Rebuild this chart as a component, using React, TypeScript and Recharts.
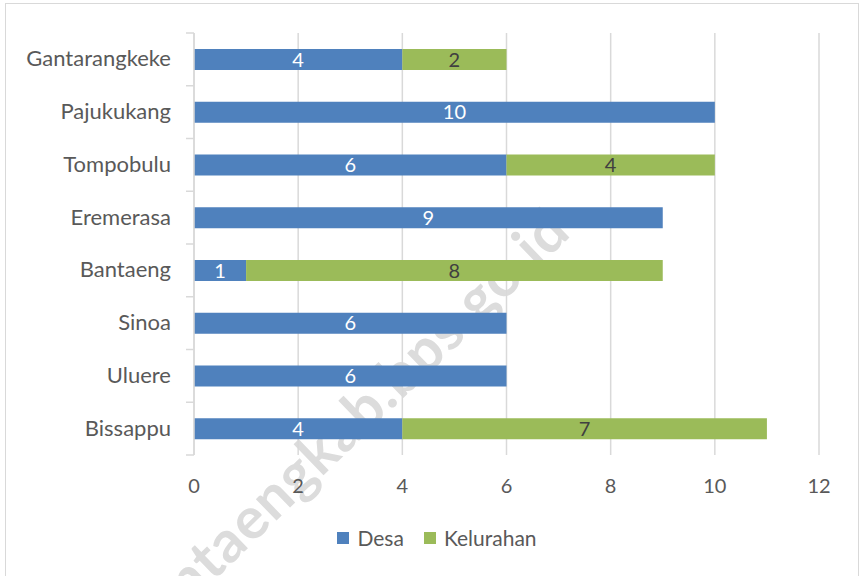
import { BarChart, Bar, XAxis, YAxis, CartesianGrid, LabelList } from "recharts";

const kecamatan = [
  "Gantarangkeke",
  "Pajukukang",
  "Tompobulu",
  "Eremerasa",
  "Bantaeng",
  "Sinoa",
  "Uluere",
  "Bissappu",
];
const desa = [4, 10, 6, 9, 1, 6, 6, 4];
const kelurahan = [2, 0, 4, 0, 8, 0, 0, 7];
const xTicks = [0, 2, 4, 6, 8, 10, 12];

const data = kecamatan.map((name, i) => ({ name, desa: desa[i], kelurahan: kelurahan[i] }));

const FONT = "Lato, 'Open Sans', sans-serif";
const PLOT_LEFT = 194;
const PLOT_TOP = 33;
const PLOT_BOTTOM = 455;
const BAND = (PLOT_BOTTOM - PLOT_TOP) / kecamatan.length;

const CategoryTick = (props: any) => {
  const { y, payload, index } = props;
  const top = y - BAND / 2;
  const bottom = y + BAND / 2;
  return (
    <g>
      <line x1={PLOT_LEFT - 8} x2={PLOT_LEFT} y1={top} y2={top} stroke="#d9d9d9" strokeWidth={1.5} />
      {index === kecamatan.length - 1 && (
        <line x1={PLOT_LEFT - 8} x2={PLOT_LEFT} y1={bottom} y2={bottom} stroke="#d9d9d9" strokeWidth={1.5} />
      )}
      <text x={171} y={y} dy={7} textAnchor="end" fill="#595959" fontSize={22} fontFamily={FONT}>
        {payload.value}
      </text>
    </g>
  );
};

const hideZero = (v: any) => (v ? v : "");

export default function App() {
  return (
    <div style={{ position: "absolute", left: 0, top: 0, width: 862, height: 576, background: "#fff", overflow: "hidden" }}>
      <div
        style={{
          position: "absolute",
          left: 5,
          top: 3,
          width: 854,
          height: 600,
          border: "1.5px solid #d9d9d9",
          boxSizing: "border-box",
        }}
      />
      {/* watermark sits behind the chart svg */}
      <div
        style={{
          position: "absolute",
          left: 342,
          top: 426,
          transform: "translate(-50%, -50%) rotate(-44deg)",
          fontFamily: FONT,
          fontWeight: 700,
          fontSize: 58,
          letterSpacing: 1,
          color: "#dcdcdc",
          whiteSpace: "nowrap",
        }}
      >
        bantaengkab.bps.go.id
      </div>
      <div style={{ position: "absolute", left: 0, top: 0 }}>
        <BarChart
          width={862}
          height={576}
          data={data}
          layout="vertical"
          margin={{ top: PLOT_TOP, right: 43, bottom: 576 - PLOT_BOTTOM - 50, left: 0 }}
          barSize={21}
        >
          <CartesianGrid horizontal={false} stroke="#d9d9d9" strokeWidth={1.5} />
          <XAxis
            type="number"
            domain={[0, 12]}
            ticks={xTicks}
            axisLine={false}
            tickLine={false}
            height={50}
            tickMargin={18}
            tick={{ fill: "#595959", fontSize: 20, fontFamily: FONT }}
          />
          <YAxis
            type="category"
            dataKey="name"
            width={PLOT_LEFT}
            axisLine={{ stroke: "#d9d9d9", strokeWidth: 1.5 }}
            tickLine={false}
            tick={<CategoryTick />}
            interval={0}
          />
          <Bar dataKey="desa" name="Desa" stackId="a" fill="#4f81bd" isAnimationActive={false}>
            <LabelList dataKey="desa" position="center" fill="#ffffff" fontSize={20} fontFamily={FONT} formatter={hideZero} />
          </Bar>
          <Bar dataKey="kelurahan" name="Kelurahan" stackId="a" fill="#9bbb59" isAnimationActive={false}>
            <LabelList dataKey="kelurahan" position="center" fill="#404040" fontSize={20} fontFamily={FONT} formatter={hideZero} />
          </Bar>
        </BarChart>
      </div>
      <div
        style={{
          position: "absolute",
          left: 0,
          top: 525,
          width: 862,
          display: "flex",
          justifyContent: "center",
          gap: 20,
          fontFamily: FONT,
          fontSize: 21,
          color: "#595959",
          paddingLeft: 12,
          boxSizing: "border-box",
        }}
      >
        <span style={{ display: "flex", alignItems: "center", gap: 8 }}>
          <span style={{ width: 12, height: 12, background: "#4f81bd", display: "inline-block" }} />
          Desa
        </span>
        <span style={{ display: "flex", alignItems: "center", gap: 8 }}>
          <span style={{ width: 12, height: 12, background: "#9bbb59", display: "inline-block" }} />
          Kelurahan
        </span>
      </div>
    </div>
  );
}
